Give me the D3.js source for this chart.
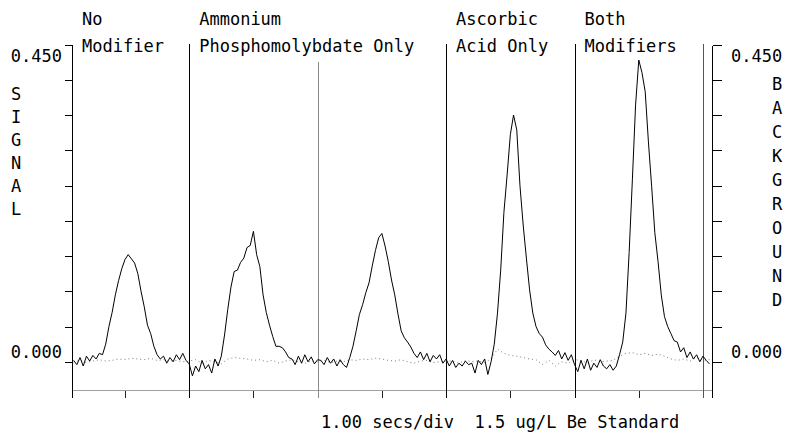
<!DOCTYPE html>
<html><head><meta charset="utf-8">
<script src="https://cdn.jsdelivr.net/npm/d3@7"></script>
<style>
html,body{margin:0;padding:0;background:#fff;}
svg{display:block;}
text{font-family:"DejaVu Sans Mono","Liberation Mono",monospace;font-size:17px;fill:#000;white-space:pre;}
</style></head><body>
<svg id="chart" width="785" height="435"></svg>
<script>
// ---- data ----
const signalStart = 0.2, signalStep = 0.05;   // seconds
const signal = [
  // No Modifier
  0.002,-0.004,0.006,-0.006,0.008,0.001,0.009,0.004,0.012,0.010,
  0.025,0.050,0.070,0.095,0.115,0.132,0.145,0.152,0.146,0.140,
  0.125,0.100,0.078,0.052,0.040,0.022,0.010,0.004,0.008,-0.002,
  0.006,0.000,0.010,0.003,0.012,0.002,-0.003,
  // Ammonium Phosphomolybdate, run 1
  -0.020,-0.006,-0.014,0.002,-0.010,-0.004,-0.016,0.004,-0.006,0.008,
  0.038,0.074,0.106,0.128,0.130,0.141,0.147,0.162,0.165,0.185,
  0.152,0.135,0.095,0.070,0.052,0.036,0.022,0.022,0.020,0.014,
  0.006,0.004,-0.004,0.008,-0.002,0.010,0.000,0.007,-0.003,0.003,
  // Ammonium Phosphomolybdate, run 2
  0.002,-0.004,0.006,-0.002,0.004,-0.006,0.003,-0.004,-0.008,0.006,
  0.022,0.044,0.067,0.081,0.098,0.112,0.136,0.158,0.176,0.182,
  0.164,0.142,0.116,0.095,0.068,0.044,0.034,0.028,0.021,0.012,
  0.006,0.014,0.003,0.012,0.000,0.009,0.004,0.010,-0.002,0.004,
  // Ascorbic Acid Only
  -0.006,0.002,-0.008,-0.002,-0.006,0.001,-0.004,-0.002,-0.016,0.002,
  -0.004,0.004,-0.018,0.000,0.025,0.069,0.130,0.212,0.265,0.322,
  0.350,0.329,0.250,0.194,0.147,0.102,0.069,0.050,0.040,0.035,
  0.024,0.018,0.014,0.009,0.016,0.004,0.013,0.002,0.010,-0.004,
  // Both Modifiers
  -0.014,0.002,-0.010,0.004,-0.012,-0.002,-0.008,0.003,-0.006,-0.010,
  -0.004,-0.012,-0.006,0.010,0.028,0.069,0.155,0.258,0.364,0.428,
  0.410,0.383,0.312,0.249,0.183,0.142,0.095,0.064,0.050,0.040,
  0.030,0.028,0.014,0.020,0.006,0.014,0.004,0.010,0.000,0.008,
  0.002,-0.003
];
const backgroundStart = 0.2, backgroundStep = 0.1;
const background = [
  0.000,0.002,-0.001,0.001,0.003,0.001,0.002,0.004,0.003,0.005,0.004,0.003,0.005,0.002,0.003,0.001,0.002,0.000,0.001,
  0.003,-0.002,0.002,0.000,-0.003,0.004,0.006,0.005,0.004,0.002,0.003,0.000,0.002,-0.002,0.001,0.003,0.000,-0.002,0.001,0.000,
  0.002,-0.001,0.001,0.000,0.003,0.002,0.004,0.003,0.005,0.004,0.002,0.001,0.003,0.000,-0.002,0.001,0.002,-0.001,0.000,0.001,
  0.001,-0.002,0.002,0.000,0.001,-0.001,0.004,0.018,0.012,0.009,0.008,0.006,0.004,0.003,-0.004,0.002,-0.006,0.000,-0.002,0.003,
  0.002,-0.002,0.003,0.000,0.001,0.002,0.008,0.012,0.013,0.010,0.012,0.009,0.011,0.008,0.004,0.002,0.004,0.001,0.006,0.002,0.003
];
const yTicks = [0,0.05,0.10,0.15,0.20,0.25,0.30,0.35,0.40,0.45];
const xTicks = [1,2,3,4,5,6,7,8,9,10];
const xDomain = [0.175, 10.14];
const yDomain = [-0.04, 0.45];
const dividerTimes = [2,4,6,8,10];
const runLabelTimes = [0.175,2,6,8];
const runLabels = [["No","Modifier"],["Ammonium","Phosphomolybdate Only"],["Ascorbic","Acid Only"],["Both","Modifiers"]];
const leftTitle = "SIGNAL";
const rightTitle = "BACKGROUND";
const yLabelTop = "0.450", yLabelBottom = "0.000";
const footer = "1.00 secs/div  1.5 ug/L Be Standard";

// ---- drawing ----
const svg = d3.select("#chart");
const x = d3.scaleLinear().domain(xDomain).range([72, 712]);
const y = d3.scaleLinear().domain(yDomain).range([390, 44.5]);
const px = v => Math.round(v) + 0.5;
const yBottom = y(yDomain[0]);
const yTop = y(0.45);

const g = svg.append("g");

// bottom axis line (grey)
g.append("line").attr("x1", px(x(xDomain[0]))).attr("x2", px(x(xDomain[1])))
  .attr("y1", px(yBottom)).attr("y2", px(yBottom))
  .attr("stroke", "#a0a0a0").attr("shape-rendering","crispEdges");
// bottom ticks
g.selectAll(".xt").data(xTicks).join("line")
  .attr("x1", d => px(x(d))).attr("x2", d => px(x(d)))
  .attr("y1", px(yBottom)).attr("y2", px(yBottom) + 7)
  .attr("stroke", "#222").attr("shape-rendering","crispEdges");

// left axis
g.append("line").attr("x1", px(x(xDomain[0]))).attr("x2", px(x(xDomain[0])))
  .attr("y1", px(yTop)).attr("y2", px(yBottom) + 7)
  .attr("stroke", "#000").attr("shape-rendering","crispEdges");
g.selectAll(".ylt").data(yTicks).join("line")
  .attr("x1", px(x(xDomain[0])) - 8).attr("x2", px(x(xDomain[0])))
  .attr("y1", d => px(y(d))).attr("y2", d => px(y(d)))
  .attr("stroke", "#000").attr("shape-rendering","crispEdges");
// right axis
g.append("line").attr("x1", px(x(xDomain[1]))).attr("x2", px(x(xDomain[1])))
  .attr("y1", px(yTop)).attr("y2", px(yBottom) + 7)
  .attr("stroke", "#000").attr("shape-rendering","crispEdges");
g.selectAll(".yrt").data(yTicks).join("line")
  .attr("x1", px(x(xDomain[1]))).attr("x2", px(x(xDomain[1])) + 9)
  .attr("y1", d => px(y(d))).attr("y2", d => px(y(d)))
  .attr("stroke", "#000").attr("shape-rendering","crispEdges");

// dividers
g.selectAll(".div").data(dividerTimes).join("line")
  .attr("x1", d => px(x(d))).attr("x2", d => px(x(d)))
  .attr("y1", d => d === 4 ? 62 : 44).attr("y2", px(yBottom) + 7)
  .attr("stroke", d => d === 4 ? "#8a8a8a" : (d === 10 ? "#555" : "#000"))
  .attr("shape-rendering","crispEdges");

// background trace (dotted grey)
const bgLine = d3.line().x((d,i) => x(backgroundStart + i*backgroundStep)).y(d => y(d));
g.append("path").datum(background).attr("d", bgLine)
  .attr("fill","none").attr("stroke","#7a7a7a").attr("stroke-width",1)
  .attr("stroke-dasharray","1,3");

// signal trace
const sigLine = d3.line().x((d,i) => x(signalStart + i*signalStep)).y(d => y(d));
g.append("path").datum(signal).attr("d", sigLine)
  .attr("fill","none").attr("stroke","#000").attr("stroke-width",1);

// run labels
runLabels.forEach((lines, k) => {
  const t = g.append("text").attr("x", x(runLabelTimes[k]) + 10).attr("y", 25);
  lines.forEach((s, j) => t.append("tspan").attr("x", x(runLabelTimes[k]) + 10).attr("y", 25 + 27*j).text(s));
});

// axis value labels
g.append("text").attr("x", 62).attr("y", 62).attr("text-anchor","end").text(yLabelTop);
g.append("text").attr("x", 62).attr("y", 358).attr("text-anchor","end").text(yLabelBottom);
g.append("text").attr("x", 731).attr("y", 62).text(yLabelTop);
g.append("text").attr("x", 731).attr("y", 358).text(yLabelBottom);

// vertical axis titles (one letter per row)
g.selectAll(".lt").data(leftTitle.split("")).join("text")
  .attr("x", 11).attr("y", (d,i) => 100 + i*23).text(d => d);
g.selectAll(".rt").data(rightTitle.split("")).join("text")
  .attr("x", 772).attr("y", (d,i) => 90 + i*24).text(d => d);

// footer
g.append("text").attr("x", 321).attr("y", 428).attr("xml:space","preserve").text(footer);
</script>
</body></html>
